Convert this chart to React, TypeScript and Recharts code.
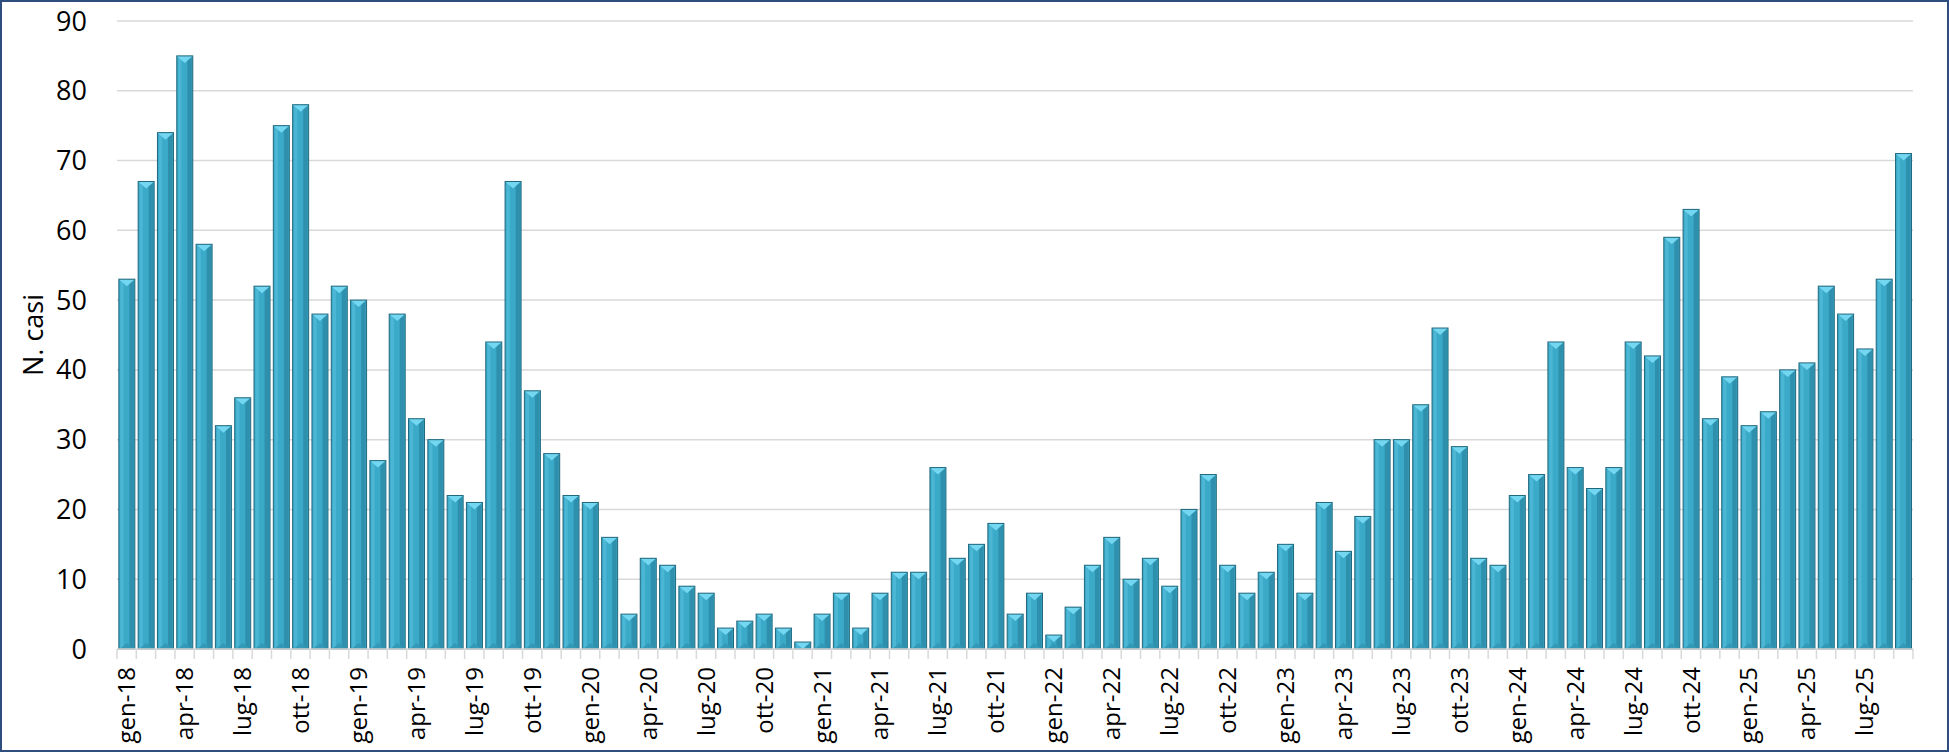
import React from "react";
import { BarChart, Bar, XAxis, YAxis, CartesianGrid } from "recharts";

const monthNames = ["gen", "feb", "mar", "apr", "mag", "giu", "lug", "ago", "set", "ott", "nov", "dic"];
const years = ["18", "19", "20", "21", "22", "23", "24", "25"];

const casi = [
  53, 67, 74, 85, 58, 32, 36, 52, 75, 78, 48, 52,
  50, 27, 48, 33, 30, 22, 21, 44, 67, 37, 28, 22,
  21, 16, 5, 13, 12, 9, 8, 3, 4, 5, 3, 1,
  5, 8, 3, 8, 11, 11, 26, 13, 15, 18, 5, 8,
  2, 6, 12, 16, 10, 13, 9, 20, 25, 12, 8, 11,
  15, 8, 21, 14, 19, 30, 30, 35, 46, 29, 13, 12,
  22, 25, 44, 26, 23, 26, 44, 42, 59, 63, 33, 39,
  32, 34, 40, 41, 52, 48, 43, 53, 71,
];

const yTicks = [0, 10, 20, 30, 40, 50, 60, 70, 80, 90];
const yTitle = "N. casi";

const categories: string[] = [];
years.forEach((y) => monthNames.forEach((m) => categories.push(`${m}-${y}`)));

const data = casi.map((v, i) => ({ mese: categories[i], casi: v }));

const FONT = "'Open Sans', 'DejaVu Sans', sans-serif";

const BevelBar = (props: any) => {
  const { x, y, width: w, height: h } = props;
  if (h == null || h <= 0) return null;
  const cap = Math.min(7, h);
  const bot = Math.min(6, h - cap > 0 ? h - cap : 0);
  return (
    <g>
      <rect x={x} y={y} width={w} height={h} fill="#3BA9C8" />
      <rect x={x + 1.5} y={y} width={w * 0.2} height={h} fill="#4BB7D5" />
      <rect x={x + w * 0.66} y={y} width={w * 0.34 - 1} height={h} fill="#2E90AD" />
      {bot > 0 && (
        <polygon
          points={`${x + 1},${y + h} ${x + w - 1},${y + h} ${x + w / 2},${y + h - bot}`}
          fill="#3399B7"
        />
      )}
      <polygon points={`${x},${y} ${x + w},${y} ${x + w / 2},${y + cap}`} fill="#74D7F1" />
      <rect x={x} y={y} width={w} height={h} fill="none" stroke="#22687D" strokeWidth={1} />
    </g>
  );
};

const XTick = (props: any) => {
  const { x, y, payload, index } = props;
  const off = payload && payload.offset ? payload.offset : 0;
  const last = index === casi.length - 1;
  return (
    <g>
      <line x1={x - off} x2={x - off} y1={y - 10} y2={y} stroke="#D9D9D9" strokeWidth={1.5} />
      {last && <line x1={x + off} x2={x + off} y1={y - 10} y2={y} stroke="#D9D9D9" strokeWidth={1.5} />}
      {index % 3 === 0 && (
        <text
          x={x}
          y={y + 8}
          transform={`rotate(-90, ${x}, ${y + 8})`}
          textAnchor="end"
          dy="0.36em"
          fontSize={24}
          fontFamily={FONT}
          fill="#000"
        >
          {payload.value}
        </text>
      )}
    </g>
  );
};

export default function App() {
  return (
    <div
      style={{
        position: "absolute",
        left: 0,
        top: 0,
        width: 1949,
        height: 752,
        boxSizing: "border-box",
        border: "2px solid #2F4E7E",
        background: "#fff",
      }}
    >
      <BarChart
        width={1945}
        height={748}
        data={data}
        margin={{ top: 19, right: 34, bottom: 1, left: 10 }}
        barCategoryGap="9.5%"
      >
        <CartesianGrid vertical={false} stroke="#D9D9D9" strokeWidth={1.5} />
        <XAxis
          dataKey="mese"
          interval={0}
          height={100}
          tickSize={10}
          tickMargin={0}
          tickLine={false}
          axisLine={{ stroke: "#D9D9D9", strokeWidth: 1.5 }}
          tick={<XTick />}
        />
        <YAxis
          width={105}
          domain={[0, 90]}
          ticks={yTicks}
          interval={0}
          axisLine={false}
          tickLine={false}
          tickSize={6}
          tickMargin={24}
          tick={{ fontSize: 27, fontFamily: FONT, fill: "#000" }}
        />
        <Bar dataKey="casi" isAnimationActive={false} shape={<BevelBar />} />
      </BarChart>
      <svg
        width={80}
        height={748}
        style={{ position: "absolute", left: 0, top: 0, pointerEvents: "none" }}
      >
        <text
          x={30}
          y={333}
          transform="rotate(-90, 30, 333)"
          textAnchor="middle"
          dominantBaseline="central"
          fontSize={27}
          fontFamily={FONT}
          fill="#000"
        >
          {yTitle}
        </text>
      </svg>
    </div>
  );
}
